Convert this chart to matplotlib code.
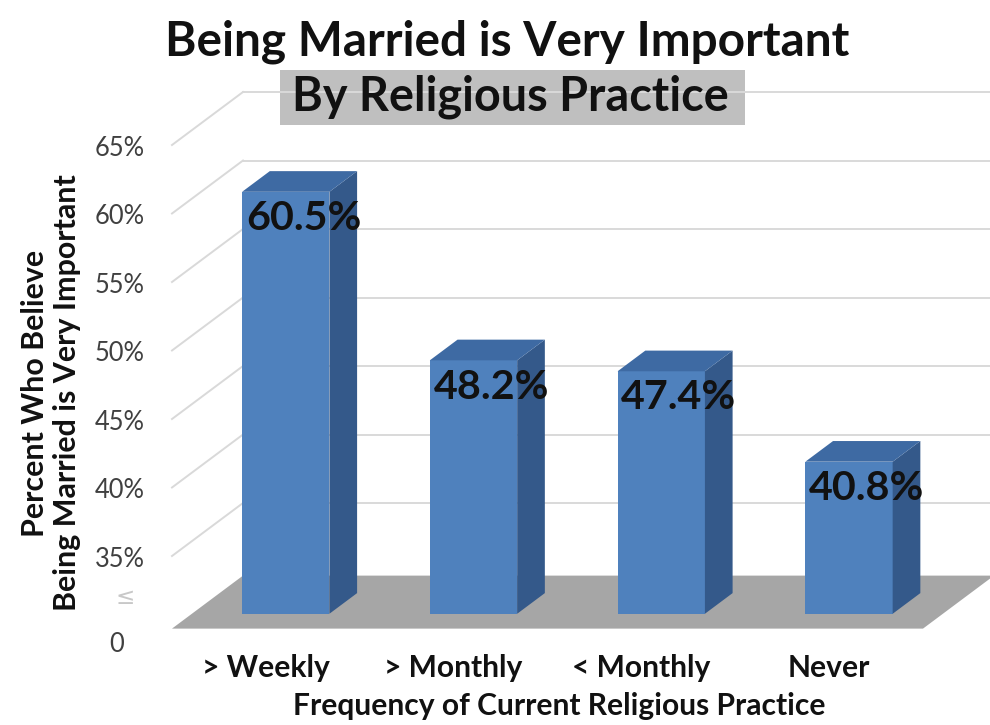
import matplotlib
matplotlib.use('Agg')
import matplotlib.pyplot as plt
from matplotlib.patches import Polygon, Rectangle

# ---------------- data ----------------
categories = ['> Weekly', '> Monthly', '< Monthly', 'Never']
values = [60.5, 48.2, 47.4, 40.8]
value_labels = ['60.5%', '48.2%', '47.4%', '40.8%']
ytick_values = [35, 40, 45, 50, 55, 60, 65]
ytick_labels = ['35%', '40%', '45%', '50%', '55%', '60%', '65%']

title = 'Being Married is Very Important'
subtitle = 'By Religious Practice'
xlabel = 'Frequency of Current Religious Practice'
ylabel = 'Percent Who Believe\nBeing Married is Very Important'

# ---------------- layout / style ----------------
FONT = ['Lato', 'DejaVu Sans']
plt.rcParams['font.family'] = FONT
W, H = 990, 725
fig = plt.figure(figsize=(W / 100, H / 100), dpi=100)
ax = fig.add_axes([0, 0, 1, 1])

PX0, CATW = 172, 187.75      # floor front-left pixel, category width in px
PY65, PPU = 145, 13.7        # pixel of 65% on front plane, px per percent
ax.set_xlim((0 - PX0) / CATW - 0.5, (W - PX0) / CATW - 0.5)
ax.set_ylim(65 - (H - PY65) / PPU, 65 + PY65 / PPU)
ax.axis('off')

DX, DY = 71 / CATW, 53 / PPU  # full depth offset in data units
FLOOR = 29.7                  # axis-break floor level
Z0, Z1 = 0.28, 0.67           # bar front/back depth
BW = 0.465                    # bar width (category units)
n = len(categories)
XL, XR = -0.5, n - 0.5

GRID = '#d9d9d9'
FRONT = '#4f81bd'
SIDE = '#34598a'
TOP = '#3e6aa3'
FLOORC = '#a6a6a6'

# walls gridlines
for v in ytick_values:
    ax.plot([XL, XL + DX], [v, v + DY], color=GRID, lw=1.4, zorder=1)
    ax.plot([XL + DX, XR + DX], [v + DY, v + DY], color=GRID, lw=1.4, zorder=1)

# floor
ax.add_patch(Polygon([(XL, FLOOR), (XR, FLOOR), (XR + DX, FLOOR + DY),
                      (XL + DX, FLOOR + DY)], closed=True, color=FLOORC,
                     lw=0, zorder=2))

# bars
xs = [i + Z0 * DX for i in range(n)]
heights = [v - FLOOR for v in values]
ax.bar(xs, heights, bottom=FLOOR + Z0 * DY, width=BW, color=FRONT,
       lw=0, zorder=3)
dz = Z1 - Z0
for i, v in enumerate(values):
    xl = xs[i] - BW / 2
    xr = xs[i] + BW / 2
    b = FLOOR + Z0 * DY
    t = v + Z0 * DY
    ax.add_patch(Polygon([(xr, b), (xr, t), (xr + dz * DX, t + dz * DY),
                          (xr + dz * DX, b + dz * DY)], closed=True,
                         color=SIDE, lw=0, zorder=3))
    ax.add_patch(Polygon([(xl, t), (xr, t), (xr + dz * DX, t + dz * DY),
                          (xl + dz * DX, t + dz * DY)], closed=True,
                         color=TOP, lw=0, zorder=3))

renderer = fig.canvas.get_renderer()


def fit(txt, target, axis='w'):
    bb = txt.get_window_extent(renderer)
    cur = bb.width if axis == 'w' else bb.height
    txt.set_fontsize(txt.get_fontsize() * target / cur)
    return txt.get_fontsize()


# data labels
lbls = []
for i, v in enumerate(values):
    xl = xs[i] - BW / 2
    lbls.append(ax.text(xl + 0.02, v + Z0 * DY - 1.95, value_labels[i],
                        ha='left', va='center', fontsize=20,
                        fontweight='bold', color='#111111', zorder=5))
fs = fit(lbls[0], 116)
for t in lbls:
    t.set_fontsize(fs)

# y tick labels
TX = (120 - PX0) / CATW - 0.5
tks = []
for v, s in zip(ytick_values, ytick_labels):
    tks.append(ax.text(TX, v - 0.25, s, ha='center', va='center',
                       fontsize=12, color='#404040'))
fs = fit(tks[0], 50)
for t in tks:
    t.set_fontsize(fs)
zero = ax.text(TX - 0.02, 65 - (644 - PY65) / PPU, '0', ha='center',
               va='center', fontsize=fs, color='#404040')
ax.text(TX + 0.03, 65 - (597 - PY65) / PPU, '≤', ha='center', va='center',
        fontsize=fs * 0.9, color='#c8c8c8', family=['DejaVu Sans'])

# category labels
cts = []
for i, c in enumerate(categories):
    cts.append(ax.text(i, 65 - (668 - PY65) / PPU, c, ha='center',
                       va='center', fontsize=16, fontweight='bold',
                       color='#111111'))
fs = fit(cts[1], 139)
for t in cts:
    t.set_fontsize(fs)

# axis titles
xt = fig.text(559 / W, 1 - 706 / H, xlabel, ha='center', va='center',
              fontsize=16, fontweight='bold', color='#111111')
fit(xt, 534)
yt = fig.text(51 / W, 1 - 393 / H, ylabel, ha='center', va='center',
              rotation=90, fontsize=16, fontweight='bold', color='#111111',
              multialignment='center', linespacing=1.15)
fit(yt, 437, axis='h')

# titles
tt = fig.text(507 / W, 1 - 42 / H, title, ha='center', va='center',
              fontsize=28, fontweight='bold', color='#111111')
fit(tt, 686)
fig.add_artist(Rectangle((280 / W, 1 - 125 / H), 465 / W, 55 / H,
                         transform=fig.transFigure, color='#bfbfbf', lw=0,
                         zorder=0))
st = fig.text(510 / W, 1 - 97 / H, subtitle, ha='center', va='center',
              fontsize=28, fontweight='bold', color='#111111', zorder=2)
fit(st, 437)

fig.savefig('out.png', dpi=100)
